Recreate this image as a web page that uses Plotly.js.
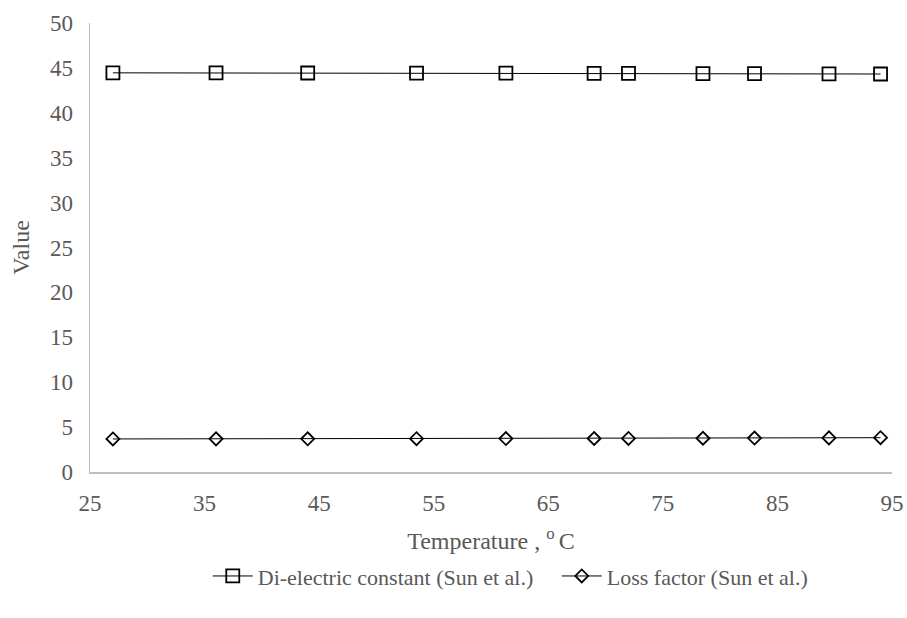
<!DOCTYPE html>
<html><head><meta charset="utf-8">
<script src="https://cdn.plot.ly/plotly-3.0.1.min.js"></script>
<style>body{margin:0}</style></head>
<body><div id="chart" style="width:907px;height:618px"></div>
<script>
const temperature = [27, 36, 44, 53.5, 61.3, 69, 72, 78.5, 83, 89.5, 94];
const dielectric = [44.45, 44.44, 44.43, 44.42, 44.41, 44.4, 44.39, 44.37, 44.36, 44.34, 44.32];
const lossFactor = [3.68, 3.69, 3.7, 3.71, 3.72, 3.73, 3.74, 3.76, 3.78, 3.8, 3.82];
const seriesNames = ['Di-electric constant (Sun et al.)', 'Loss factor (Sun et al.)'];
const xTicks = [25, 35, 45, 55, 65, 75, 85, 95];
const yTicks = [0, 5, 10, 15, 20, 25, 30, 35, 40, 45, 50];

const fam = '"Liberation Serif", "Times New Roman", serif';
const font = {family: fam, color: '#595959', size: 23};
const titleFont = {family: fam, color: '#595959', size: 24};
const traces = [
  {x: temperature, y: dielectric, name: seriesNames[0], mode: 'lines+markers',
   line: {color: '#000', width: 1},
   marker: {symbol: 'square-open', size: 13, color: '#000', line: {width: 1.8, color: '#000'}}},
  {x: temperature, y: lossFactor, name: seriesNames[1], mode: 'lines+markers',
   line: {color: '#000', width: 1},
   marker: {symbol: 'diamond-open', size: 10, color: '#000', line: {width: 1.8, color: '#000'}}}
];
const layout = {
  width: 907, height: 618,
  margin: {l: 90, r: 15, t: 23, b: 146, autoexpand: false},
  paper_bgcolor: '#fff', plot_bgcolor: '#fff',
  font: font,
  showlegend: true,
  legend: {orientation: 'h', x: 0.582, xanchor: 'center', y: -0.232, yanchor: 'middle',
           font: {family: fam, color: '#595959', size: 22}, itemwidth: 40, traceorder: 'normal',
           entrywidth: 294},
  xaxis: {range: [25, 95], tickvals: xTicks, ticktext: xTicks.map(String), showgrid: false, zeroline: false,
          showline: true, linecolor: '#bfbfbf', linewidth: 1.5, ticks: '', ticklen: 0,
          tickfont: font, ticklabelstandoff: 10, automargin: false,
          title: {text: 'Temperature , <sup>o </sup>C', font: titleFont, standoff: 17}},
  yaxis: {range: [0, 50], tickvals: yTicks, ticktext: yTicks.map(String), showgrid: false, zeroline: false,
          showline: true, linecolor: '#bfbfbf', linewidth: 1.5, ticks: '', ticklen: 0,
          tickfont: font, ticklabelstandoff: 11, automargin: false,
          title: {text: 'Value', font: titleFont, standoff: 13}}
};
Plotly.newPlot('chart', traces, layout, {displayModeBar: false, staticPlot: true});
</script></body></html>
